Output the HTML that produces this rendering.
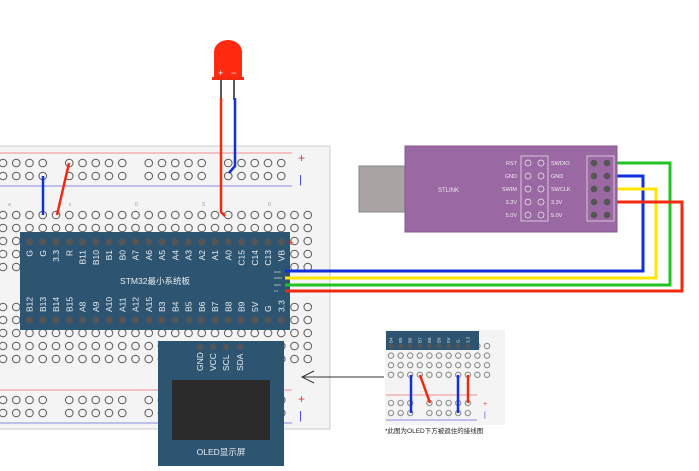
<!DOCTYPE html>
<html><head><meta charset="utf-8"><style>
html,body{margin:0;padding:0;background:#fff;width:699px;height:471px;overflow:hidden}
svg{display:block;font-family:"Liberation Sans","Noto Sans CJK SC",sans-serif}
</style></head><body>
<svg width="699" height="471" viewBox="0 0 699 471" xmlns="http://www.w3.org/2000/svg">
<defs>
<pattern id="pA" patternUnits="userSpaceOnUse" x="-3.625" y="208.5" width="13.25" height="13"><circle cx="6.625" cy="6.5" r="3.8" fill="none" stroke="#555" stroke-width="1"/></pattern>
<pattern id="pB" patternUnits="userSpaceOnUse" x="-3.625" y="300.5" width="13.25" height="13"><circle cx="6.625" cy="6.5" r="3.8" fill="none" stroke="#555" stroke-width="1"/></pattern>
<pattern id="pR1" patternUnits="userSpaceOnUse" x="-3.625" y="156.5" width="13.25" height="13"><circle cx="6.625" cy="6.5" r="3.8" fill="none" stroke="#555" stroke-width="1"/></pattern>
<pattern id="pR2" patternUnits="userSpaceOnUse" x="-3.625" y="393.5" width="13.25" height="13"><circle cx="6.625" cy="6.5" r="3.8" fill="none" stroke="#555" stroke-width="1"/></pattern>
<pattern id="pP" patternUnits="userSpaceOnUse" x="22.875" y="235" width="13.25" height="78"><circle cx="6.625" cy="7" r="3.5" fill="#555"/><circle cx="6.625" cy="85" r="3.5" fill="#555"/></pattern>
<pattern id="pI" patternUnits="userSpaceOnUse" x="386.2" y="341.2" width="9.6" height="9.6"><circle cx="4.8" cy="4.8" r="2.7" fill="none" stroke="#666" stroke-width="0.8"/></pattern>
<pattern id="pI2" patternUnits="userSpaceOnUse" x="386.2" y="398.2" width="9.6" height="10"><circle cx="4.8" cy="4.8" r="2.7" fill="none" stroke="#666" stroke-width="0.8"/></pattern>
<pattern id="pIP" patternUnits="userSpaceOnUse" x="386.2" y="341.2" width="9.6" height="9.6"><circle cx="4.8" cy="4.8" r="2.4" fill="#555"/></pattern>
<pattern id="pSL" patternUnits="userSpaceOnUse" x="521" y="156.5" width="13" height="13"><circle cx="7" cy="6.5" r="3" fill="none" stroke="#eee" stroke-width="0.7"/></pattern>
<pattern id="pSR" patternUnits="userSpaceOnUse" x="587" y="156.5" width="13" height="13"><circle cx="7" cy="6.5" r="3.3" fill="#555"/></pattern>
</defs>
<rect x="-2" y="146" width="332" height="283" fill="#f4f4f4" stroke="#ccc"/>
<line x1="0" y1="153" x2="292" y2="153" stroke="#f09090"/>
<line x1="0" y1="186" x2="292" y2="186" stroke="#8a8ae0"/>
<line x1="0" y1="390" x2="292" y2="390" stroke="#f09090"/>
<line x1="0" y1="423" x2="292" y2="423" stroke="#8a8ae0"/>
<text x="298" y="162" fill="#e33" font-size="12">+</text>
<text x="299" y="183" fill="#33e" font-size="11">|</text>
<text x="298" y="403" fill="#e33" font-size="12">+</text>
<text x="299" y="419" fill="#33e" font-size="11">|</text>
<!-- holes -->
<rect x="-3.625" y="208.5" width="318" height="65" fill="url(#pA)"/>
<rect x="-3.625" y="300.5" width="318" height="65" fill="url(#pB)"/>
<rect x="-3.625" y="156.5" width="53" height="26" fill="url(#pR1)"/>
<rect x="62.625" y="156.5" width="66.25" height="26" fill="url(#pR1)"/>
<rect x="142.125" y="156.5" width="66.25" height="26" fill="url(#pR1)"/>
<rect x="221.625" y="156.5" width="66.25" height="26" fill="url(#pR1)"/>
<rect x="-3.625" y="393.5" width="53" height="26" fill="url(#pR2)"/>
<rect x="62.625" y="393.5" width="66.25" height="26" fill="url(#pR2)"/>
<rect x="142.125" y="393.5" width="66.25" height="26" fill="url(#pR2)"/>
<rect x="221.625" y="393.5" width="66.25" height="26" fill="url(#pR2)"/>
<g fill="#999" font-size="5"><text x="8" y="206">a</text><text x="69" y="206">ε</text><text x="135" y="206">0</text><text x="202" y="206">S</text><text x="268" y="206">0</text></g>
<!-- STM32 -->
<rect x="20" y="232" width="270" height="98" fill="#2d5470"/>
<rect x="22.875" y="235" width="265" height="92" fill="url(#pP)"/>
<g fill="#e8eef2" font-size="8.5" text-anchor="end">
<text transform="translate(32.5,250) rotate(-90)">G</text>
<text transform="translate(45.75,250) rotate(-90)">G</text>
<text transform="translate(59,250) rotate(-90)">3.3</text>
<text transform="translate(72.25,250) rotate(-90)">R</text>
<text transform="translate(85.5,250) rotate(-90)">B11</text>
<text transform="translate(98.75,250) rotate(-90)">B10</text>
<text transform="translate(112,250) rotate(-90)">B1</text>
<text transform="translate(125.25,250) rotate(-90)">B0</text>
<text transform="translate(138.5,250) rotate(-90)">A7</text>
<text transform="translate(151.75,250) rotate(-90)">A6</text>
<text transform="translate(165,250) rotate(-90)">A5</text>
<text transform="translate(178.25,250) rotate(-90)">A4</text>
<text transform="translate(191.5,250) rotate(-90)">A3</text>
<text transform="translate(204.75,250) rotate(-90)">A2</text>
<text transform="translate(218,250) rotate(-90)">A1</text>
<text transform="translate(231.25,250) rotate(-90)">A0</text>
<text transform="translate(244.5,250) rotate(-90)">C15</text>
<text transform="translate(257.75,250) rotate(-90)">C14</text>
<text transform="translate(271,250) rotate(-90)">C13</text>
<text transform="translate(284.25,250) rotate(-90)">VB</text>
</g>
<g fill="#e8eef2" font-size="8.5">
<text transform="translate(32.5,312) rotate(-90)">B12</text>
<text transform="translate(45.75,312) rotate(-90)">B13</text>
<text transform="translate(59,312) rotate(-90)">B14</text>
<text transform="translate(72.25,312) rotate(-90)">B15</text>
<text transform="translate(85.5,312) rotate(-90)">A8</text>
<text transform="translate(98.75,312) rotate(-90)">A9</text>
<text transform="translate(112,312) rotate(-90)">A10</text>
<text transform="translate(125.25,312) rotate(-90)">A11</text>
<text transform="translate(138.5,312) rotate(-90)">A12</text>
<text transform="translate(151.75,312) rotate(-90)">A15</text>
<text transform="translate(165,312) rotate(-90)">B3</text>
<text transform="translate(178.25,312) rotate(-90)">B4</text>
<text transform="translate(191.5,312) rotate(-90)">B5</text>
<text transform="translate(204.75,312) rotate(-90)">B6</text>
<text transform="translate(218,312) rotate(-90)">B7</text>
<text transform="translate(231.25,312) rotate(-90)">B8</text>
<text transform="translate(244.5,312) rotate(-90)">B9</text>
<text transform="translate(257.75,312) rotate(-90)">5V</text>
<text transform="translate(271,312) rotate(-90)">G</text>
<text transform="translate(284.25,312) rotate(-90)">3.3</text>
</g>
<text x="155" y="284" fill="#e8eef2" font-size="8.5" text-anchor="middle">STM32最小系统板</text>
<g font-size="3" fill="#ddd"><text x="274" y="273">GND</text><text x="274" y="279">SWIO</text><text x="274" y="286">SWC</text><text x="274" y="292">3.3</text></g>
<text x="288" y="246" fill="#f02a10" font-size="10">+</text>
<!-- wires to stlink -->
<g fill="none" stroke-width="3">
<polyline points="285,271 643,271 643,176 606,176" stroke="#1030e0"/>
<polyline points="285,278 656,278 656,189 606,189" stroke="#ffe600"/>
<polyline points="285,285 670,285 670,163 606,163" stroke="#22c422"/>
<polyline points="285,291 682,291 682,202 606,202" stroke="#f02a10"/>
</g>
<!-- LED -->
<line x1="221" y1="80" x2="221" y2="100" stroke="#222" stroke-width="1.5"/>
<line x1="234" y1="80" x2="234" y2="100" stroke="#222" stroke-width="1.5"/>
<path d="M214,78 V52 A14 12 0 0 1 242,52 V78 Z" fill="#ff2a10"/>
<rect x="212" y="77" width="32" height="3" fill="#f02a10"/>
<text x="218" y="76" fill="#fff" font-size="9">+</text><text x="231" y="76" fill="#fff" font-size="9">−</text>
<g fill="none" stroke-width="2.5">
<polyline points="221,98 221,212 225,216" stroke="#f02a10"/>
<polyline points="235,98 235,166 229,173" stroke="#1030e0"/>
<line x1="43" y1="176" x2="43" y2="215" stroke="#1030e0"/>
<line x1="69" y1="163" x2="57" y2="215" stroke="#f02a10"/>
</g>
<!-- STLINK -->
<rect x="359" y="166" width="47" height="46" fill="#a9a3a3" stroke="#888"/>
<rect x="405" y="146" width="212" height="86" fill="#9a68a2" stroke="#85578d"/>
<text x="438" y="192" fill="#eee" font-size="6">STLINK</text>
<rect x="521" y="156" width="27" height="65" fill="none" stroke="#d8c4dc"/>
<rect x="587" y="156" width="27" height="65" fill="none" stroke="#d8c4dc"/>
<rect x="521" y="156.5" width="26" height="65" fill="url(#pSL)"/>
<rect x="587" y="156.5" width="26" height="65" fill="url(#pSR)"/>
<g font-size="5.5" fill="#eee" text-anchor="end">
<text x="517" y="165">RST</text><text x="517" y="178">GND</text><text x="517" y="191">SWIM</text><text x="517" y="204">3.3V</text><text x="517" y="217">5.0V</text>
</g>
<g font-size="5.5" fill="#eee">
<text x="551" y="165">SWDIO</text><text x="551" y="178">GND</text><text x="551" y="191">SWCLK</text><text x="551" y="204">3.3V</text><text x="551" y="217">5.0V</text>
</g>
<!-- OLED -->
<rect x="158" y="341" width="126" height="125" fill="#2d5470"/>
<rect x="172" y="380" width="98" height="60" fill="#2b2b2b"/>
<g fill="#555"><circle cx="200" cy="347" r="3"/><circle cx="213" cy="347" r="3"/><circle cx="226" cy="347" r="3"/><circle cx="240" cy="347" r="3"/></g>
<g fill="#e8eef2" font-size="8.5">
<text transform="translate(203,371) rotate(-90)">GND</text>
<text transform="translate(216,371) rotate(-90)">VCC</text>
<text transform="translate(229,371) rotate(-90)">SCL</text>
<text transform="translate(243,371) rotate(-90)">SDA</text>
</g>
<text x="221" y="455" fill="#e8eef2" font-size="8.5" text-anchor="middle">OLED显示屏</text>
<!-- arrow -->
<line x1="384" y1="377" x2="302" y2="377" stroke="#333"/>
<polyline points="314,371 302,377 314,383" fill="none" stroke="#333"/>
<!-- inset -->
<rect x="385" y="330" width="120" height="95" fill="#f4f4f4"/>
<line x1="386" y1="395" x2="477" y2="395" stroke="#f09090"/>
<line x1="386" y1="420" x2="477" y2="420" stroke="#8a8ae0"/>
<text x="483" y="406" fill="#e33" font-size="7">+</text><text x="484" y="417" fill="#33e" font-size="7">|</text>
<rect x="386.2" y="341.2" width="105.6" height="38.4" fill="url(#pI)"/>
<rect x="386.2" y="398.2" width="28.8" height="20" fill="url(#pI2)"/>
<rect x="424.6" y="398.2" width="48" height="20" fill="url(#pI2)"/>
<rect x="386" y="331" width="93" height="19" fill="#2d5470"/>
<rect x="386.2" y="341.2" width="86.4" height="9.6" fill="url(#pIP)"/>
<g fill="#ddd" font-size="4.5">
<text transform="translate(392.5,343) rotate(-90)">B4</text>
<text transform="translate(402.1,343) rotate(-90)">B5</text>
<text transform="translate(411.7,343) rotate(-90)">B6</text>
<text transform="translate(421.3,343) rotate(-90)">B7</text>
<text transform="translate(430.9,343) rotate(-90)">B8</text>
<text transform="translate(440.5,343) rotate(-90)">B9</text>
<text transform="translate(450.1,343) rotate(-90)">5V</text>
<text transform="translate(459.7,343) rotate(-90)">G</text>
<text transform="translate(469.3,343) rotate(-90)">3.3</text>
</g>
<g stroke-width="2.5" fill="none">
<line x1="411" y1="375" x2="411" y2="413" stroke="#1030e0"/>
<line x1="420" y1="375" x2="430" y2="403" stroke="#f02a10"/>
<line x1="458" y1="375" x2="458" y2="413" stroke="#1030e0"/>
<line x1="468" y1="375" x2="468" y2="403" stroke="#f02a10"/>
</g>
<text x="385" y="433" fill="#222" font-size="6.5">*此图为OLED下方被遮住的接线图</text>
</svg>
</body></html>
